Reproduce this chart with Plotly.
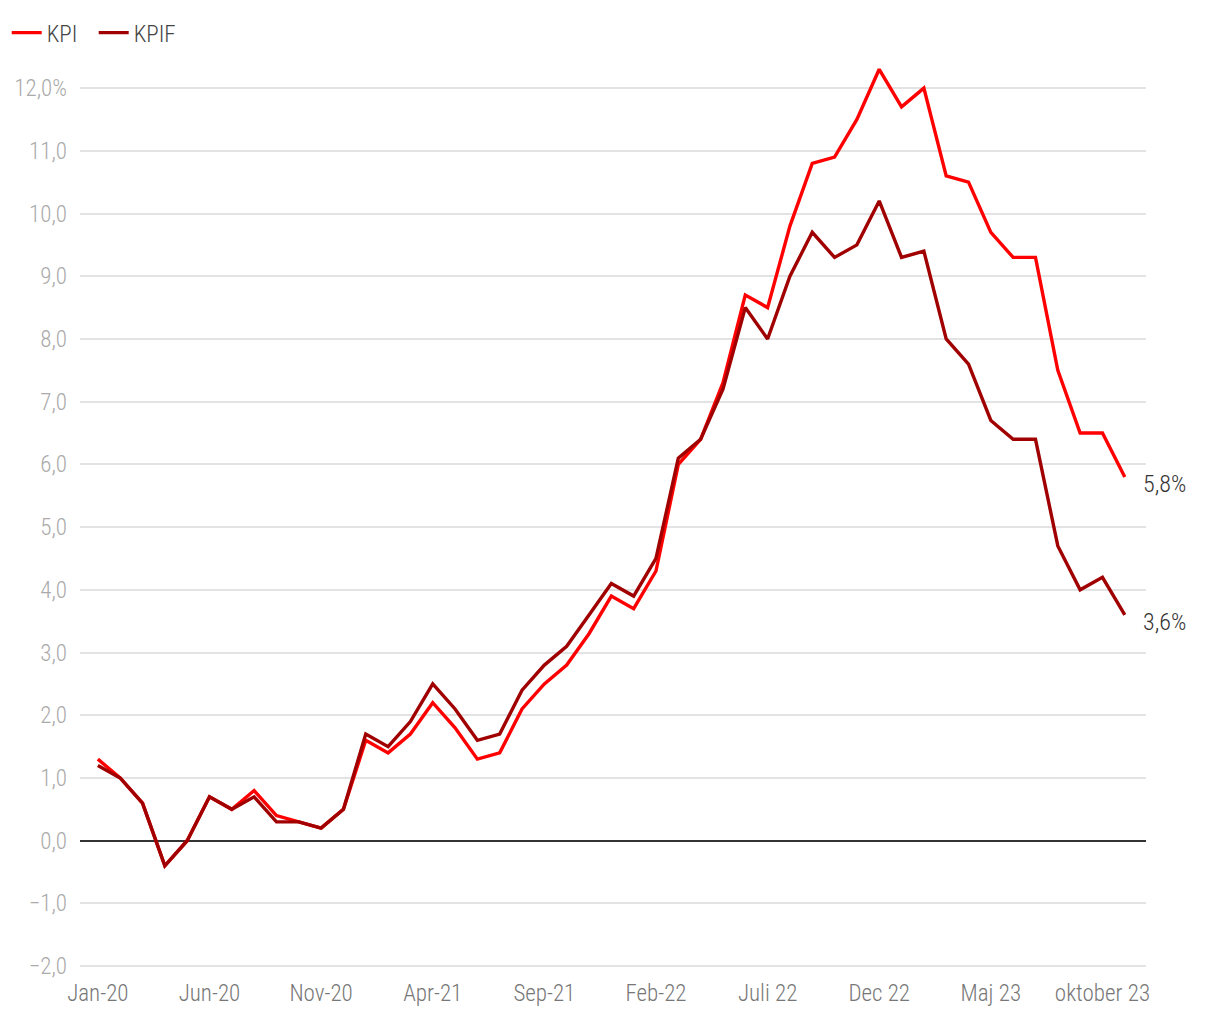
import plotly.graph_objects as go

months = list(range(47))  # Jan-20 .. Nov-23
kpi = [1.3, 1.0, 0.6, -0.4, 0.0, 0.7, 0.5, 0.8, 0.4, 0.3, 0.2, 0.5,
       1.6, 1.4, 1.7, 2.2, 1.8, 1.3, 1.4, 2.1, 2.5, 2.8, 3.3, 3.9,
       3.7, 4.3, 6.0, 6.4, 7.3, 8.7, 8.5, 9.8, 10.8, 10.9, 11.5, 12.3,
       11.7, 12.0, 10.6, 10.5, 9.7, 9.3, 9.3, 7.5, 6.5, 6.5, 5.8]
kpif = [1.2, 1.0, 0.6, -0.4, 0.0, 0.7, 0.5, 0.7, 0.3, 0.3, 0.2, 0.5,
        1.7, 1.5, 1.9, 2.5, 2.1, 1.6, 1.7, 2.4, 2.8, 3.1, 3.6, 4.1,
        3.9, 4.5, 6.1, 6.4, 7.2, 8.5, 8.0, 9.0, 9.7, 9.3, 9.5, 10.2,
        9.3, 9.4, 8.0, 7.6, 6.7, 6.4, 6.4, 4.7, 4.0, 4.2, 3.6]
x_tickvals = [0, 5, 10, 15, 20, 25, 30, 35, 40, 45]
x_ticktext = ["Jan-20", "Jun-20", "Nov-20", "Apr-21", "Sep-21", "Feb-22",
              "Juli 22", "Dec 22", "Maj 23", "oktober 23"]
y_tickvals = [-2, -1, 0, 1, 2, 3, 4, 5, 6, 7, 8, 9, 10, 11, 12]
y_ticktext = ["\u22122,0", "\u22121,0", "0,0", "1,0", "2,0", "3,0", "4,0", "5,0",
              "6,0", "7,0", "8,0", "9,0", "10,0", "11,0", "12,0%"]
end_labels = ["5,8%", "3,6%"]

FONT = "Roboto Condensed, Liberation Sans Narrow, DejaVu Sans Condensed, Roboto, sans-serif"

fig = go.Figure()
fig.add_trace(go.Scatter(x=months, y=kpi, mode="lines", name="KPI",
                         line=dict(color="#ff0000", width=3.4)))
fig.add_trace(go.Scatter(x=months, y=kpif, mode="lines", name="KPIF",
                         line=dict(color="#a00000", width=3.4)))

for val, txt in zip([kpi[-1], kpif[-1]], end_labels):
    fig.add_annotation(x=months[-1], y=val, text=txt, showarrow=False,
                       xanchor="left", yanchor="middle", xshift=16, yshift=-7,
                       font=dict(size=24, color="#333333", family=FONT, weight=300))

fig.update_layout(
    width=1220, height=1020,
    margin=dict(l=80, r=74, t=63, b=52, autoexpand=False),
    paper_bgcolor="white", plot_bgcolor="white",
    font=dict(family=FONT, size=20, color="#444444", weight=300),
    showlegend=True,
    legend=dict(orientation="h", xref="container", yref="container",
                x=0.0055, y=0.968, xanchor="left", yanchor="middle",
                font=dict(size=23, color="#444444", weight=300), itemwidth=30,
                entrywidth=42, entrywidthmode="pixels",
                bgcolor="rgba(0,0,0,0)"),
    xaxis=dict(range=[-0.8, 46.95], tickvals=x_tickvals, ticktext=x_ticktext,
               showgrid=False, zeroline=False, showline=False, ticks="",
               automargin=False, ticklabelstandoff=9,
               tickfont=dict(size=23, color="#777777", weight=300)),
    yaxis=dict(range=[-2.03, 12.4], tickvals=y_tickvals, ticktext=y_ticktext,
               showgrid=True, gridcolor="#e3e3e3", gridwidth=1.5,
               zeroline=True, zerolinecolor="#333333", zerolinewidth=1.5,
               showline=False, ticks="", ticklabelstandoff=12, automargin=False,
               tickfont=dict(size=23, color="#aaaaaa", weight=300)),
)

fig.write_html("out.html")
